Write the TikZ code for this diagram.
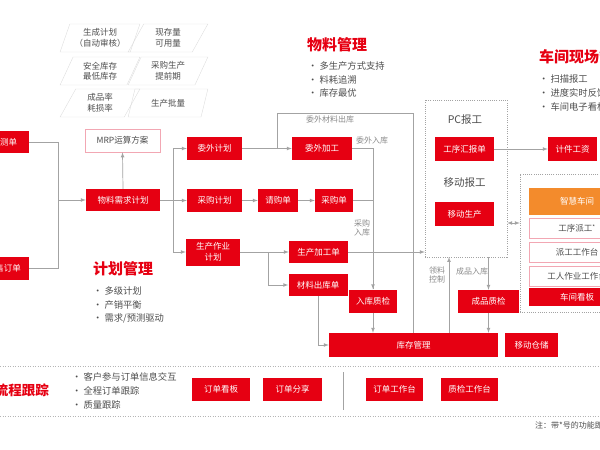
\documentclass[tikz,border=0pt]{standalone}
\usepackage{fontspec}
\setmainfont{Noto Sans CJK SC}
\usepackage{xcolor}
\usepackage{tikz}
\usetikzlibrary{shapes.geometric,positioning,arrows}
\definecolor{mesred}{HTML}{E60012}
\definecolor{mesorange}{HTML}{F38B2C}
\definecolor{mespink}{HTML}{F2A7B3}
\definecolor{linegray}{HTML}{A3A3A3}
\definecolor{tipgray}{HTML}{555555}
\definecolor{textgray}{HTML}{4D4D4D}
\definecolor{labelgray}{HTML}{8A8A8A}
\definecolor{paragray}{HTML}{DDDDDD}
\newcommand{\boxfont}{\fontsize{8.5}{11}\selectfont}
\newcommand{\headfont}{\fontsize{15}{17}\selectfont\bfseries}
\newcommand{\itemfont}{\fontsize{9.3}{11}\selectfont}

\begin{document}
\begin{tikzpicture}[x=1pt,y=-1pt,
	redbox/.style={fill=mesred,text=white,font=\boxfont,inner sep=0pt,minimum height=23,align=center},
	pinkbox/.style={draw=mespink,fill=white,text=textgray,font=\boxfont,inner sep=0pt,minimum height=20,line width=0.8pt},
	orangebox/.style={fill=mesorange,text=white,font=\boxfont,inner sep=0pt,minimum height=27},
	parabox/.style={trapezium,trapezium left angle=66,trapezium right angle=114,trapezium stretches=true,
		draw=paragray,text=textgray,font=\fontsize{8.5}{10.5}\selectfont,align=center,inner sep=0pt,
		minimum width=80,minimum height=28},
	dotbox/.style={draw=linegray,dash pattern=on 1pt off 1.2pt,inner sep=0pt},
	headtext/.style={text=mesred,font=\headfont,inner sep=0pt},
	itemtext/.style={text=textgray,font=\itemfont,inner sep=0pt,anchor=west},
	flowlabel/.style={text=labelgray,font=\fontsize{8}{9.5}\selectfont,inner sep=0pt,align=center},
	gline/.style={draw=linegray,line width=0.7pt},
	garrow/.style={gline,-latex}]
	\useasboundingbox (0,0) rectangle (600,450);
	\node[parabox] (p1) at (100,38) {生成计划\\（自动审核）};
	\node[parabox] (p2) at (168,38) {现存量\\可用量};
	\node[parabox] (p3) at (100,71) {安全库存\\最低库存};
	\node[parabox] (p4) at (168,71) {采购生产\\提前期};
	\node[parabox] (p5) at (100,103) {成品率\\耗损率};
	\node[parabox] (p6) at (168,103) {生产批量};
	\node[headtext,anchor=west] (hwl) at (307,45) {物料管理};
	\node[itemtext] (iwl1) at (308,66) {· 多生产方式支持};
	\node[itemtext] (iwl2) at (308,79.5) {· 料耗追溯};
	\node[itemtext] (iwl3) at (308,93) {· 库存最优};
	\node[headtext,anchor=west] (hcj) at (539,57) {车间现场管理};
	\node[itemtext] (icj1) at (539,79) {· 扫描报工};
	\node[itemtext] (icj2) at (539,93) {· 进度实时反馈};
	\node[itemtext] (icj3) at (539,107) {· 车间电子看板};
	\node[headtext,anchor=west] (hjh) at (93,269) {计划管理};
	\node[itemtext] (ijh1) at (93,291) {· 多级计划};
	\node[itemtext] (ijh2) at (93,304.5) {· 产销平衡};
	\node[itemtext] (ijh3) at (93,318) {· 需求/预测驱动};
	\node[redbox,minimum width=66,minimum height=22] (ycd) at (-4,142) {销售预测单};
	\node[redbox,minimum width=50] (xsdd) at (4,268.5) {销售订单};
	\node[pinkbox,minimum width=75,minimum height=23] (mrp) at (122.5,140.5) {MRP运算方案};
	\node[redbox,minimum width=74,minimum height=22] (wlxq) at (123,200) {物料需求计划};
	\node[redbox,minimum width=55] (wwjh) at (214.5,148.5) {委外计划};
	\node[redbox,minimum width=55] (cgjh) at (214.5,200.5) {采购计划};
	\node[redbox,minimum width=54,minimum height=27] (sczy) at (213,252) {生产作业\\计划};
	\node[redbox,minimum width=60] (wwjg) at (322,148.5) {委外加工};
	\node[redbox,minimum width=40] (qgd) at (278,200.5) {请购单};
	\node[redbox,minimum width=38] (cgd) at (334,200.5) {采购单};
	\node[redbox,minimum width=59,minimum height=22] (scjg) at (318.5,252) {生产加工单};
	\node[redbox,minimum width=59,minimum height=22] (clck) at (318,285) {材料出库单};
	\node[redbox,minimum width=48] (rkzj) at (373,301) {入库质检};
	\node[redbox,minimum width=61] (cpzj) at (488.5,301.5) {成品质检};
	\node[redbox,minimum width=169,minimum height=24] (kcgl) at (413.5,345) {库存管理};
	\node[redbox,minimum width=53,minimum height=24] (ydcc) at (531.5,345) {移动仓储};
	\node[dotbox,minimum width=82,minimum height=157] (pc) at (466,178.5) {};
	\node[text=textgray,font=\fontsize{10.5}{12}\selectfont,inner sep=0pt] (tpc) at (465,120) {PC报工};
	\node[text=textgray,font=\fontsize{10.5}{12}\selectfont,inner sep=0pt] (tyd) at (464.5,183) {移动报工};
	\node[redbox,minimum width=59,minimum height=24] (gxhb) at (464.5,149) {工序汇报单};
	\node[redbox,minimum width=59,minimum height=24] (ydsc) at (464.5,214) {移动生产};
	\node[redbox,minimum width=49,minimum height=24] (jjgz) at (572.5,149) {计件工资};
	\node[dotbox,minimum width=100,minimum height=138] (zh) at (570,243) {};
	\node[orangebox,minimum width=96] (zhcj) at (577,201.5) {智慧车间};
	\node[pinkbox,minimum width=96] (gxpg) at (577,228.5) {工序派工\textsuperscript{*}};
	\node[pinkbox,minimum width=96] (pggz) at (577,252.5) {派工工作台};
	\node[pinkbox,minimum width=96] (grzy) at (577,276.5) {工人作业工作台};
	\node[redbox,minimum width=96,minimum height=18] (cjkb) at (577,297) {车间看板};
	\coordinate (jl) at (58,200);
	\draw[gline] (ycd.east) -| (jl);
	\draw[gline] (xsdd.east) -| (jl);
	\draw[garrow] (jl) -- (wlxq.west);
	\draw[garrow] (wlxq.north) -- (mrp.south);
	\coordinate (jr) at (173,200);
	\draw[gline] (wlxq.east) -- (jr);
	\draw[garrow] (jr) |- (wwjh.west);
	\draw[garrow] (jr) |- (cgjh.west);
	\draw[garrow] (jr) |- (sczy.west);
	\draw[garrow] (wwjh) -- (wwjg);
	\draw[garrow] (cgjh) -- (qgd);
	\draw[garrow] (qgd) -- (cgd);
	\coordinate (wwtop) at (277,113);
	\draw[gline] (kcgl.north) |- (wwtop) -- (wwtop |- wwjh.east);
	\node[flowlabel] (lwwck) at (330,119) {委外材料出库};
	\draw[garrow] (wwjg.east) -| (rkzj.north);
	\node[flowlabel] (lwwrk) at (372,140) {委外入库};
	\draw[gline] (cgd.east) -| (rkzj.north);
	\node[flowlabel] (lcgrk) at (362,228) {采购\\入库};
	\draw[garrow] (sczy) -- (scjg);
	\coordinate (jp) at (268,252);
	\draw[garrow] (jp) |- (clck.west);
	\draw[garrow] (scjg.east) -- (scjg.east -| pc.west);
	\draw[garrow] (clck.south) |- (kcgl.west);
	\draw[garrow] (rkzj.south) -- (rkzj.south |- kcgl.north);
	\draw[garrow] (cpzj.south) -- (cpzj.south |- kcgl.north);
	\draw[garrow] (pc.south -| cpzj.north) -- (cpzj.north);
	\node[flowlabel] (lcprk) at (472,271) {成品入库};
	\coordinate (ll) at (449,257);
	\draw[garrow] (ll |- kcgl.north) -- (ll);
	\node[flowlabel] (lllkz) at (437,275) {领料\\控制};
	\draw[garrow] (gxhb) -- (jjgz);
	\coordinate (db) at (514,223);
	\draw[gline,latex-latex] (db -| pc.east) -- (db -| zh.west);
	\draw[linegray!80,dash pattern=on 1pt off 1.5pt] (0,366) -- (600,366);
	\draw[linegray!80,dash pattern=on 1pt off 1.5pt] (0,416) -- (600,416);
	\node[headtext,anchor=east,font=\fontsize{13.5}{16}\selectfont\bfseries] (hgz) at (49,390) {全流程跟踪};
	\node[itemtext] (igz1) at (72,377) {· 客户参与订单信息交互};
	\node[itemtext] (igz2) at (72,391) {· 全程订单跟踪};
	\node[itemtext] (igz3) at (72,405) {· 质量跟踪};
	\node[redbox,minimum width=58] (ddkb) at (221,389.5) {订单看板};
	\node[redbox,minimum width=59] (ddfx) at (292.5,389.5) {订单分享};
	\draw[gline] (343,372) -- (343,410);
	\node[redbox,minimum width=57] (ddgzt) at (394.5,389.5) {订单工作台};
	\node[redbox,minimum width=57] (zjgzt) at (469.5,389.5) {质检工作台};
	\node[text=textgray,font=\fontsize{8}{9}\selectfont,inner sep=0pt,anchor=west] (note) at (535,425) {注：带*号的功能即将上线};
\end{tikzpicture}
\end{document}
